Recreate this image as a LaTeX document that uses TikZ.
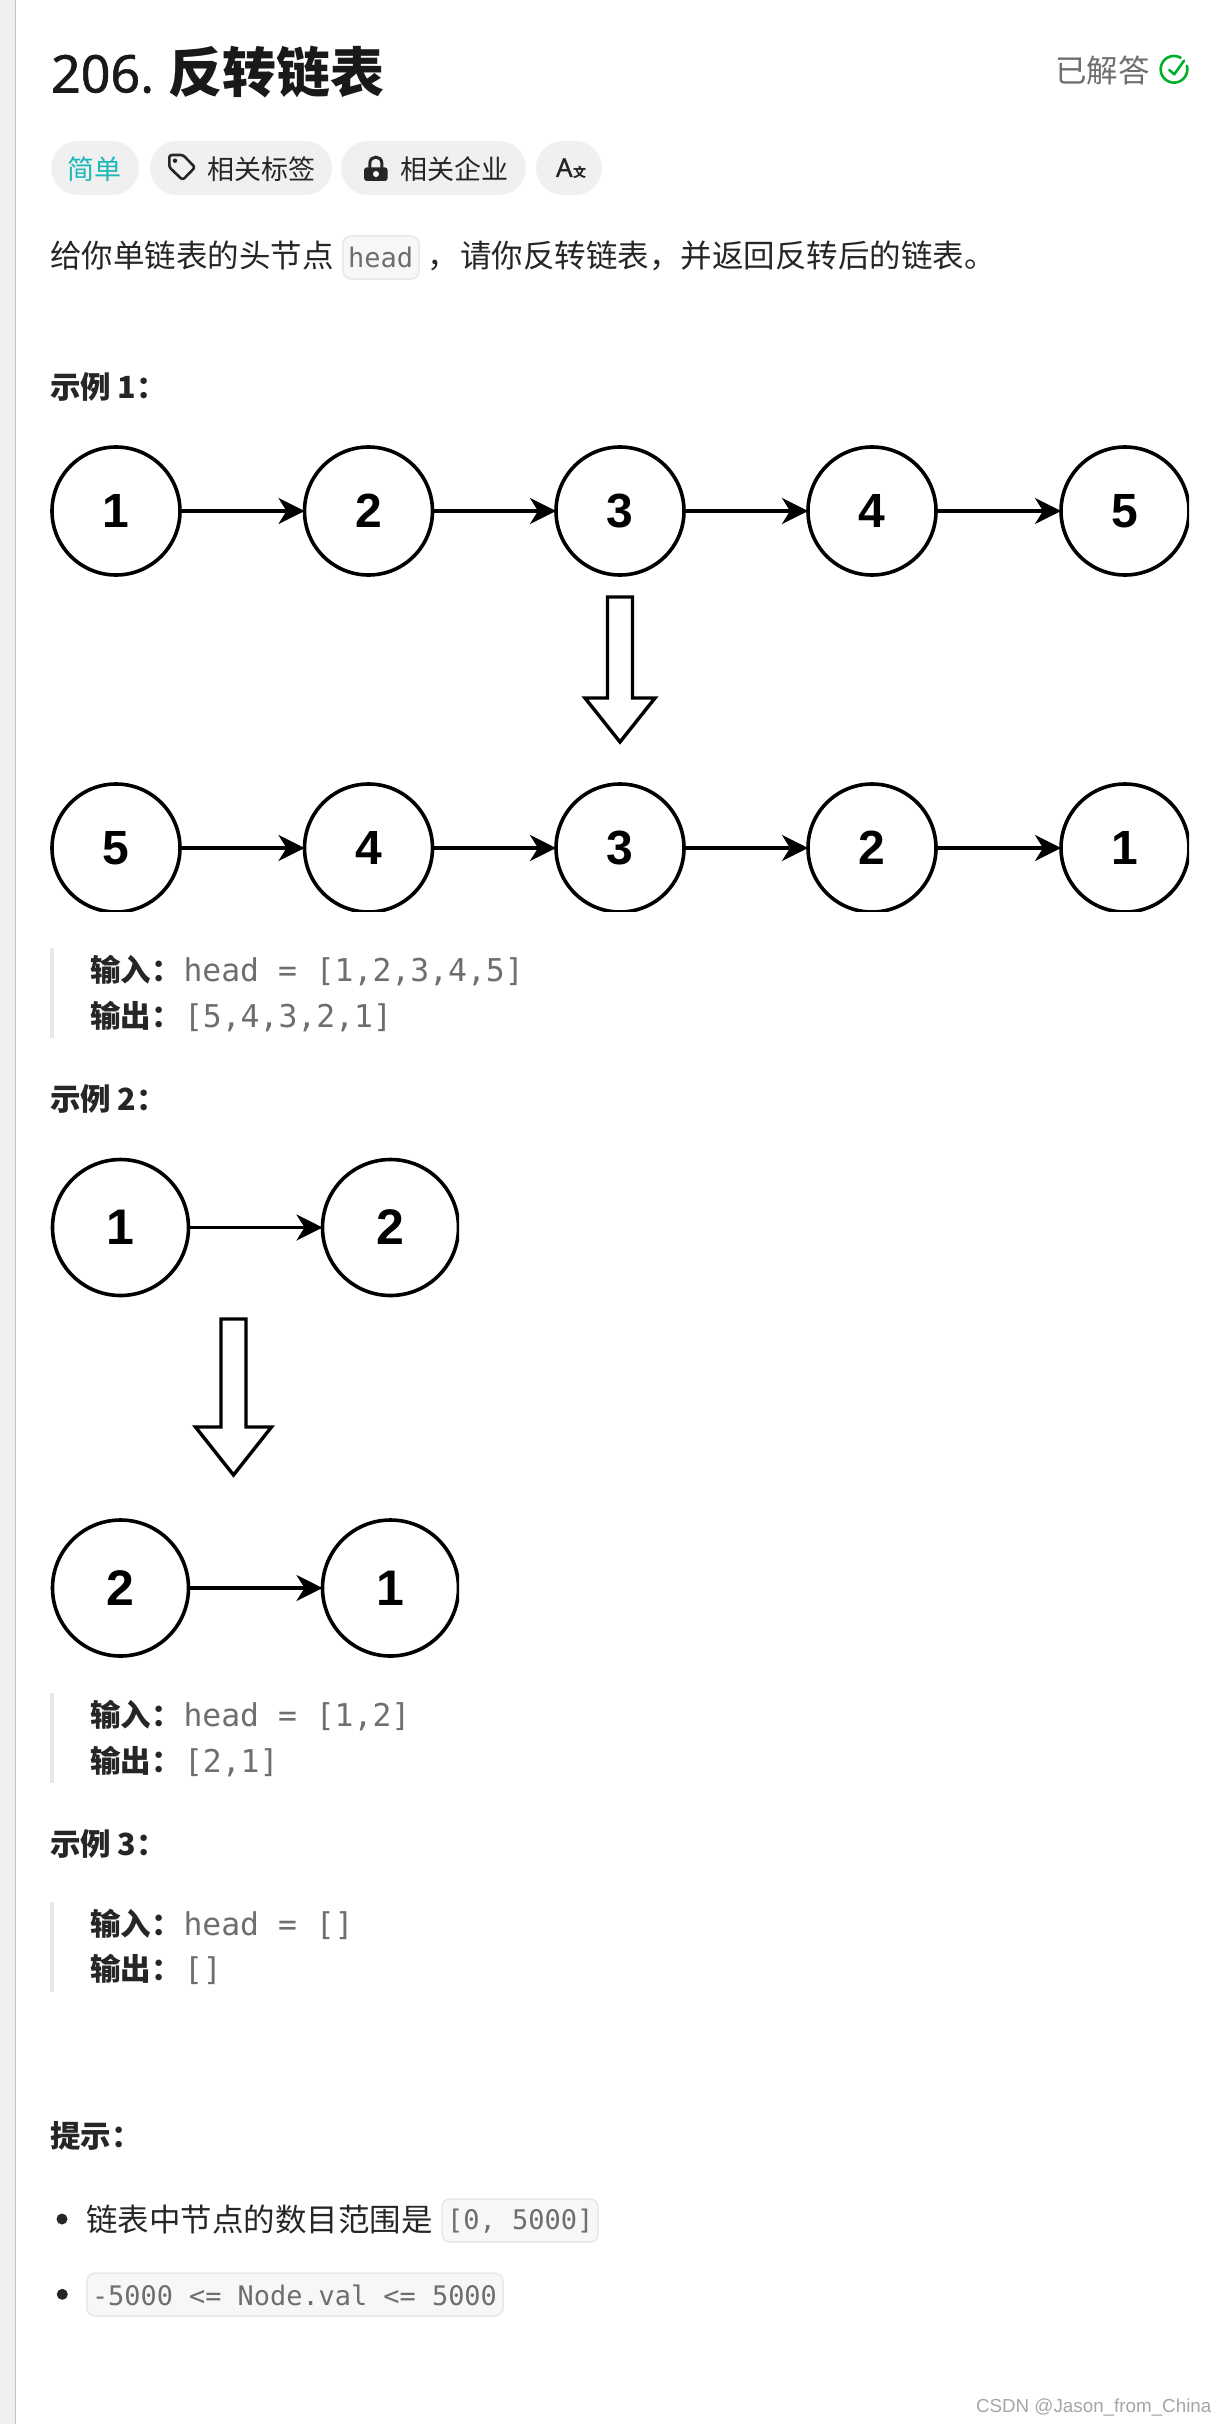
\documentclass[tikz,border=0pt]{standalone}
\usepackage{fontspec}
\usetikzlibrary{arrows.meta}
\setmainfont{Noto Sans CJK SC}
\newfontfamily\semi[FakeBold=1]{Noto Sans}
\newfontfamily\codef{DejaVu Sans Mono}
\newfontfamily\arial{Liberation Sans}
\newcommand{\fs}[1]{\fontsize{#1}{#1}\selectfont}
\definecolor{ink}{HTML}{262626}
\definecolor{codegrey}{HTML}{6E6E6E}
\definecolor{pillbg}{HTML}{F0F0F0}
\definecolor{boxbg}{HTML}{F7F7F7}
\definecolor{boxline}{HTML}{E8E8E8}
\definecolor{teal2}{HTML}{1CB8B8}
\definecolor{okgreen}{HTML}{00AF2A}
\tikzset{
  x=1pt,y=-1pt,
  txt/.style={inner sep=0pt,outer sep=0pt,anchor=base west,text=ink},
  body/.style={txt,font=\fs{31.5}},
  head3/.style={txt,font=\fs{30.5}\bfseries},
  pilltext/.style={txt,font=\fs{27}},
  code/.style={txt,font=\codef\fs{31.4},text=codegrey},
  nodeA/.style={circle,draw=black,line width=3.6pt,fill=white,minimum size=128pt,inner sep=0pt,outer sep=0pt,font=\arial\bfseries\fs{48},text=black},
  nodeB/.style={nodeA,minimum size=136pt,font=\arial\bfseries\fs{50}},
  link/.style={line width=3.6pt,draw=black,-{Stealth[length=26pt,width=26pt,inset=8pt]}},
  blockarrow/.style={draw=black,line width=3.4pt,fill=white,line join=miter},
  pill/.style={fill=pillbg,rounded corners=27pt,draw=none},
  codebox/.style={fill=boxbg,draw=boxline,line width=1.5pt,rounded corners=8pt},
  quotebar/.style={fill=boxline,draw=none},
}
\begin{document}
\begin{tikzpicture}
\useasboundingbox (0,0) rectangle (1223,2424);
\fill[white] (0,0) rectangle (1223,2424);
\fill[pillbg] (0,0) rectangle (15,2424);
\fill[boxline!80!black!90] (14.5,0) rectangle (15.5,2424);

% title
\node[txt,font=\semi\fs{52},text=black!90] (title) at (51,92.5) {206.};
\node[txt,font=\fs{54}\bfseries,text=black!90] (titlecn) at (168,93) {反转链表};
\node[txt,font=\fs{31.5},text=codegrey] (solved) at (1055,83) {已解答};
\draw[okgreen,line width=2.6pt,line cap=round] plot[domain=-15:300,samples=60] ({1174+13.3*cos(\x)},{69.3+13.3*sin(\x)});
\draw[okgreen,line width=2.6pt,line cap=round,line join=round] (1169.3,70) -- (1174.3,74.3) -- (1184,60.7);

% pills
\fill[pill] (51,141) rectangle (139,195);
\fill[pill] (150,141) rectangle (332,195);
\fill[pill] (341,141) rectangle (526,195);
\fill[pill] (536,141) rectangle (602,195);
\node[pilltext,text=teal2] (easy) at (67,180) {简单};
\node[pilltext] (tags) at (207,180) {相关标签};
\node[pilltext] (firms) at (400,180) {相关企业};
\draw[ink,line width=2.6pt,line join=round,rounded corners=2.5pt] (169.3,155) -- (183,155) -- (195,167.3) -- (182.7,180) -- (169.3,167.3) -- cycle;
\fill[ink] (175,160.7) circle (2.2);
\fill[ink,rounded corners=3pt] (364,167.3) rectangle (387.7,181);
\draw[ink,line width=3pt] (369.8,168) -- (369.8,163.5) .. controls (369.8,155) and (381.9,155) .. (381.9,163.5) -- (381.9,168);
\fill[white] (376,174) circle (3);
\node[txt,font=\semi\fs{26}] (axA) at (556,177) {A};
\node[txt,font=\fs{13}\bfseries] (axB) at (573,178) {文};

% description
\node[body] (d1) at (50,268) {给你单链表的头节点};
\draw[codebox] (343,236) rectangle (419,279);
\node[txt,font=\codef\fs{27},text=codegrey] (d2) at (348,268) {head};
\node[body] (d3) at (427,268) {，};
\node[body] (d4) at (460,268) {请你反转链表，并返回反转后的链表。};

% example 1
\node[head3] (ex1) at (50,398) {示例 1：};
\begin{scope}
\clip (45,440) rectangle (1189,911);
\node[nodeA] (a1) at (116,511) {1};
\node[nodeA] (a2) at (368.5,511) {2};
\node[nodeA] (a3) at (620,511) {3};
\node[nodeA] (a4) at (872,511) {4};
\node[nodeA] (a5) at (1125,511) {5};
\node[nodeA] (b1) at (116,848) {5};
\node[nodeA] (b2) at (368.5,848) {4};
\node[nodeA] (b3) at (620,848) {3};
\node[nodeA] (b4) at (872,848) {2};
\node[nodeA] (b5) at (1125,848) {1};
\foreach \p/\q in {a1/a2,a2/a3,a3/a4,a4/a5,b1/b2,b2/b3,b3/b4,b4/b5} \draw[link] (\p) -- (\q);
\end{scope}
\draw[blockarrow] (607.5,597) -- (632.5,597) -- (632.5,698) -- (655,698) -- (620,742) -- (585,698) -- (607.5,698) -- cycle;

\fill[quotebar] (50,948) rectangle (54,1038);
\node[head3] (in1) at (90,981) {输入：};
\node[code] (inv1) at (183.5,981) {head = [1,2,3,4,5]};
\node[head3] (out1) at (90,1027) {输出：};
\node[code] (outv1) at (184,1027) {[5,4,3,2,1]};

% example 2
\node[head3] (ex2) at (50,1110) {示例 2：};
\begin{scope}
\clip (45,1150) rectangle (459,1305);
\node[nodeB] (c1) at (120.5,1227.5) {1};
\node[nodeB] (c2) at (390.5,1227.5) {2};
\draw[link] (c1) -- (c2);
\end{scope}
\begin{scope}
\clip (45,1510) rectangle (459,1658);
\node[nodeB] (e1) at (120.5,1588) {2};
\node[nodeB] (e2) at (390.5,1588) {1};
\draw[link] (e1) -- (e2);
\end{scope}
\draw[blockarrow] (221,1319) -- (246,1319) -- (246,1427) -- (271.5,1427) -- (233.5,1475) -- (195.5,1427) -- (221,1427) -- cycle;

\fill[quotebar] (50,1693) rectangle (54,1783);
\node[head3] (in2) at (90,1726) {输入：};
\node[code] (inv2) at (183.5,1726) {head = [1,2]};
\node[head3] (out2) at (90,1772) {输出：};
\node[code] (outv2) at (184,1772) {[2,1]};

% example 3
\node[head3] (ex3) at (50,1855) {示例 3：};
\fill[quotebar] (50,1902) rectangle (54,1991.5);
\node[head3] (in3) at (90,1935) {输入：};
\node[code] (inv3) at (183.5,1935) {head = []};
\node[head3] (out3) at (90,1980) {输出：};
\node[code] (outv3) at (184,1980) {[]};

% hints
\node[head3] (hint) at (50,2147) {提示：};
\fill[ink] (62,2219) circle (5.5);
\node[body] (h1) at (86,2231) {链表中节点的数目范围是};
\draw[codebox] (442,2199) rectangle (598,2242);
\node[txt,font=\codef\fs{27},text=codegrey] (h1c) at (447,2229) {[0, 5000]};
\fill[ink] (62.3,2294.3) circle (5.5);
\draw[codebox] (87,2273) rectangle (503,2316);
\node[txt,font=\codef\fs{26.9},text=codegrey] (h2c) at (92,2305) {-5000 <= Node.val <= 5000};

\node[txt,font=\arial\fs{18.8},text=black!35] (mark) at (976,2412) {CSDN @Jason\_from\_China};
\end{tikzpicture}
\end{document}
